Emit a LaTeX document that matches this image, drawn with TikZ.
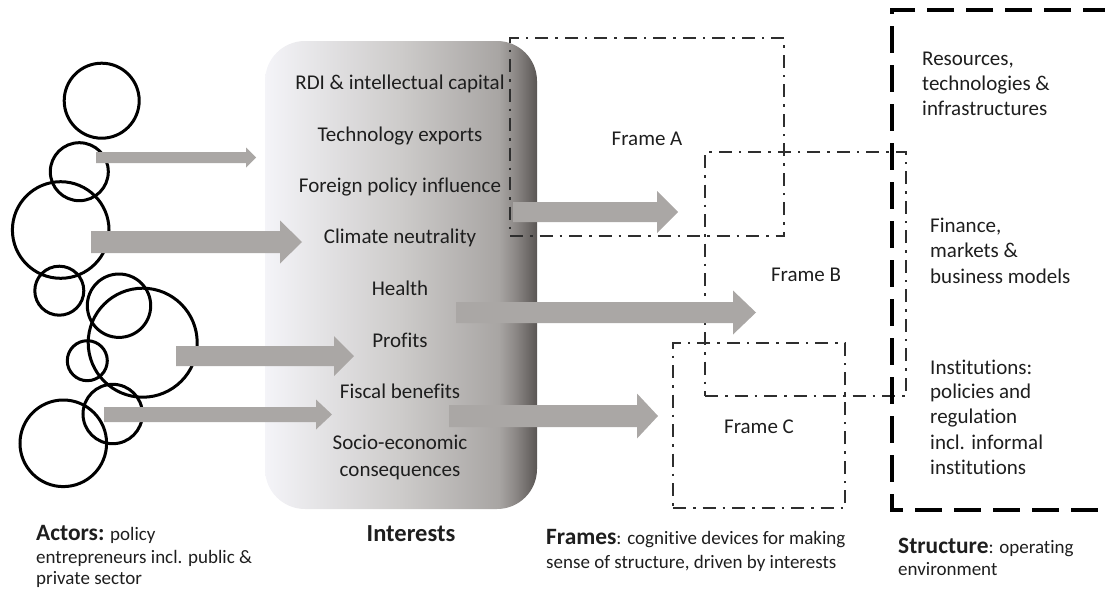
\documentclass[tikz,border=0pt]{standalone}
\usepackage{fontspec}
\setmainfont{Carlito}[Ligatures=NoCommon]
\definecolor{gA}{HTML}{F4F4F8}
\definecolor{gB}{HTML}{CDCBCA}
\definecolor{gC}{HTML}{A8A5A3}
\definecolor{gD}{HTML}{8C8886}
\definecolor{gE}{HTML}{5A5654}
\definecolor{arrowgray}{HTML}{AAA7A5}
\definecolor{framecol}{HTML}{2E2E2E}
\definecolor{txtcol}{HTML}{1E1E1E}
\pgfdeclarehorizontalshading{intgrad}{100bp}{color(0bp)=(gA); color(25bp)=(gA); color(50bp)=(gB); color(68bp)=(gC); color(71bp)=(gD); color(75bp)=(gE); color(100bp)=(gE)}
\newcommand{\blockarrow}[6]{%
  \fill[arrowgray] (#1,#3-#4) -- (#2-#6,#3-#4) -- (#2-#6,#3-#5) -- (#2,#3)
    -- (#2-#6,#3+#5) -- (#2-#6,#3+#4) -- (#1,#3+#4) -- cycle;}
\begin{document}
\begin{tikzpicture}[x=1pt,y=-1pt,
  ring/.style={draw=black,line width=3pt,circle,inner sep=0pt,outer sep=0pt},
  frm/.style={draw=framecol,line width=2.8pt,dash pattern=on 13pt off 7pt on 2.5pt off 7pt,
    rectangle,inner sep=0pt,outer sep=0pt,anchor=north west},
  txt/.style={font=\fontsize{21}{24}\selectfont,text=txtcol,inner sep=0pt},
  small/.style={font=\fontsize{19}{23}\selectfont,text=txtcol,inner sep=0pt},
  head/.style={font=\fontsize{24.5}{27}\selectfont\bfseries}]
\useasboundingbox (0,0) rectangle (1105,589);

% actors (circles)
\node[ring,minimum size=75pt] (c1) at (101.7,100.7) {};
\node[ring,minimum size=58pt] (c2) at (79.3,171.7) {};
\node[ring,minimum size=96.6pt] (c3) at (60.7,230) {};
\node[ring,minimum size=49pt] (c4) at (59.3,290.7) {};
\node[ring,minimum size=63.4pt] (c5) at (119,305.7) {};
\node[ring,minimum size=109pt] (c6) at (142.7,342.7) {};
\node[ring,minimum size=40pt] (c7) at (87.3,360.7) {};
\node[ring,minimum size=59.4pt] (c8) at (112.7,414) {};
\node[ring,minimum size=86.6pt] (c9) at (63.3,443.3) {};

% interests box
\shade[shading=intgrad,rounded corners=40pt] (265,41) rectangle (537,509);
\node[inner sep=0pt] (intbox) at (401,275) {};

% arrows actors -> interests
\blockarrow{96}{256}{157.5}{5.5}{10}{10}
\blockarrow{91}{302}{242}{11}{21.5}{22}
\blockarrow{176}{354}{356}{10}{20}{20}
\blockarrow{104}{332}{414.5}{7.5}{15}{16}

% interests texts
\node[txt,anchor=base] (i1) at (400,89.5) {RDI \& intellectual capital};
\node[txt,anchor=base] (i2) at (400,141.5) {Technology exports};
\node[txt,anchor=base] (i3) at (400,192.5) {Foreign policy influence};
\node[txt,anchor=base] (i4) at (400,243.5) {Climate neutrality};
\node[txt,anchor=base] (i5) at (400,295.5) {Health};
\node[txt,anchor=base] (i6) at (400,347.5) {Profits};
\node[txt,anchor=base] (i7) at (400,398.5) {Fiscal benefits};
\node[txt,anchor=base] (i8) at (400,449.5) {Socio-economic};
\node[txt,anchor=base] (i9) at (400,476.5) {consequences};

% frames
\node[frm,minimum width=274pt,minimum height=198pt] (frA) at (510,38) {};
\node[frm,minimum width=201pt,minimum height=244pt] (frB) at (705,152) {};
\node[frm,minimum width=172pt,minimum height=165pt] (frC) at (673,343) {};
\node[txt,anchor=base] (lA) at (647,145.5) {Frame A};
\node[txt,anchor=base] (lB) at (806,281.5) {Frame B};
\node[txt,anchor=base] (lC) at (759,433.5) {Frame C};

% arrows interests -> frames
\blockarrow{513}{678}{212}{10}{21}{21}
\blockarrow{456}{756}{312.5}{10.5}{22}{23}
\blockarrow{449}{658}{416}{11}{22.5}{21}

% structure
\coordinate (sTR) at (1110,10);
\coordinate (sTL) at (892,10);
\coordinate (sBL) at (892,510);
\coordinate (sBR) at (1110,510);
\draw[black,line width=4pt,dash pattern=on 27pt off 12pt] (sTR) -- (sTL) -- (sBL) -- (sBR);

\node[txt,anchor=base west] (s1) at (922,65) {Resources,};
\node[txt,anchor=base west] (s2) at (922,90.5) {technologies \&};
\node[txt,anchor=base west] (s3) at (922,115.5) {infrastructures};
\node[txt,anchor=base west] (s4) at (930,232.5) {Finance,};
\node[txt,anchor=base west] (s5) at (930,257.5) {markets \&};
\node[txt,anchor=base west] (s6) at (930,283.5) {business models};
\node[txt,anchor=base west] (s7) at (930,374.5) {Institutions:};
\node[txt,anchor=base west] (s8) at (930,398.5) {policies and};
\node[txt,anchor=base west] (s9) at (930,423.5) {regulation};
\node[txt,anchor=base west] (s10) at (930,449) {incl. informal};
\node[txt,anchor=base west] (s11) at (930,474) {institutions};

% bottom labels
\node[small,anchor=base west] (a1) at (36,540) {{\fontsize{23.4}{27}\selectfont\bfseries Actors:} policy};
\node[small,anchor=base west] (a2) at (36,563) {entrepreneurs incl. public \&};
\node[small,anchor=base west] (a3) at (36,584.5) {private sector};
\node[small,head,anchor=base] (int) at (411,541.5) {Interests};
\node[small,anchor=base west] (f1) at (546,544) {{\fontsize{23.4}{27}\selectfont\bfseries Frames}: cognitive devices for making};
\node[small,anchor=base west] (f2) at (546,568) {sense of structure, driven by interests};
\node[small,anchor=base west] (t1) at (898,553) {{\fontsize{23.4}{27}\selectfont\bfseries Structure}: operating};
\node[small,anchor=base west] (t2) at (898,575) {environment};
\end{tikzpicture}
\end{document}
